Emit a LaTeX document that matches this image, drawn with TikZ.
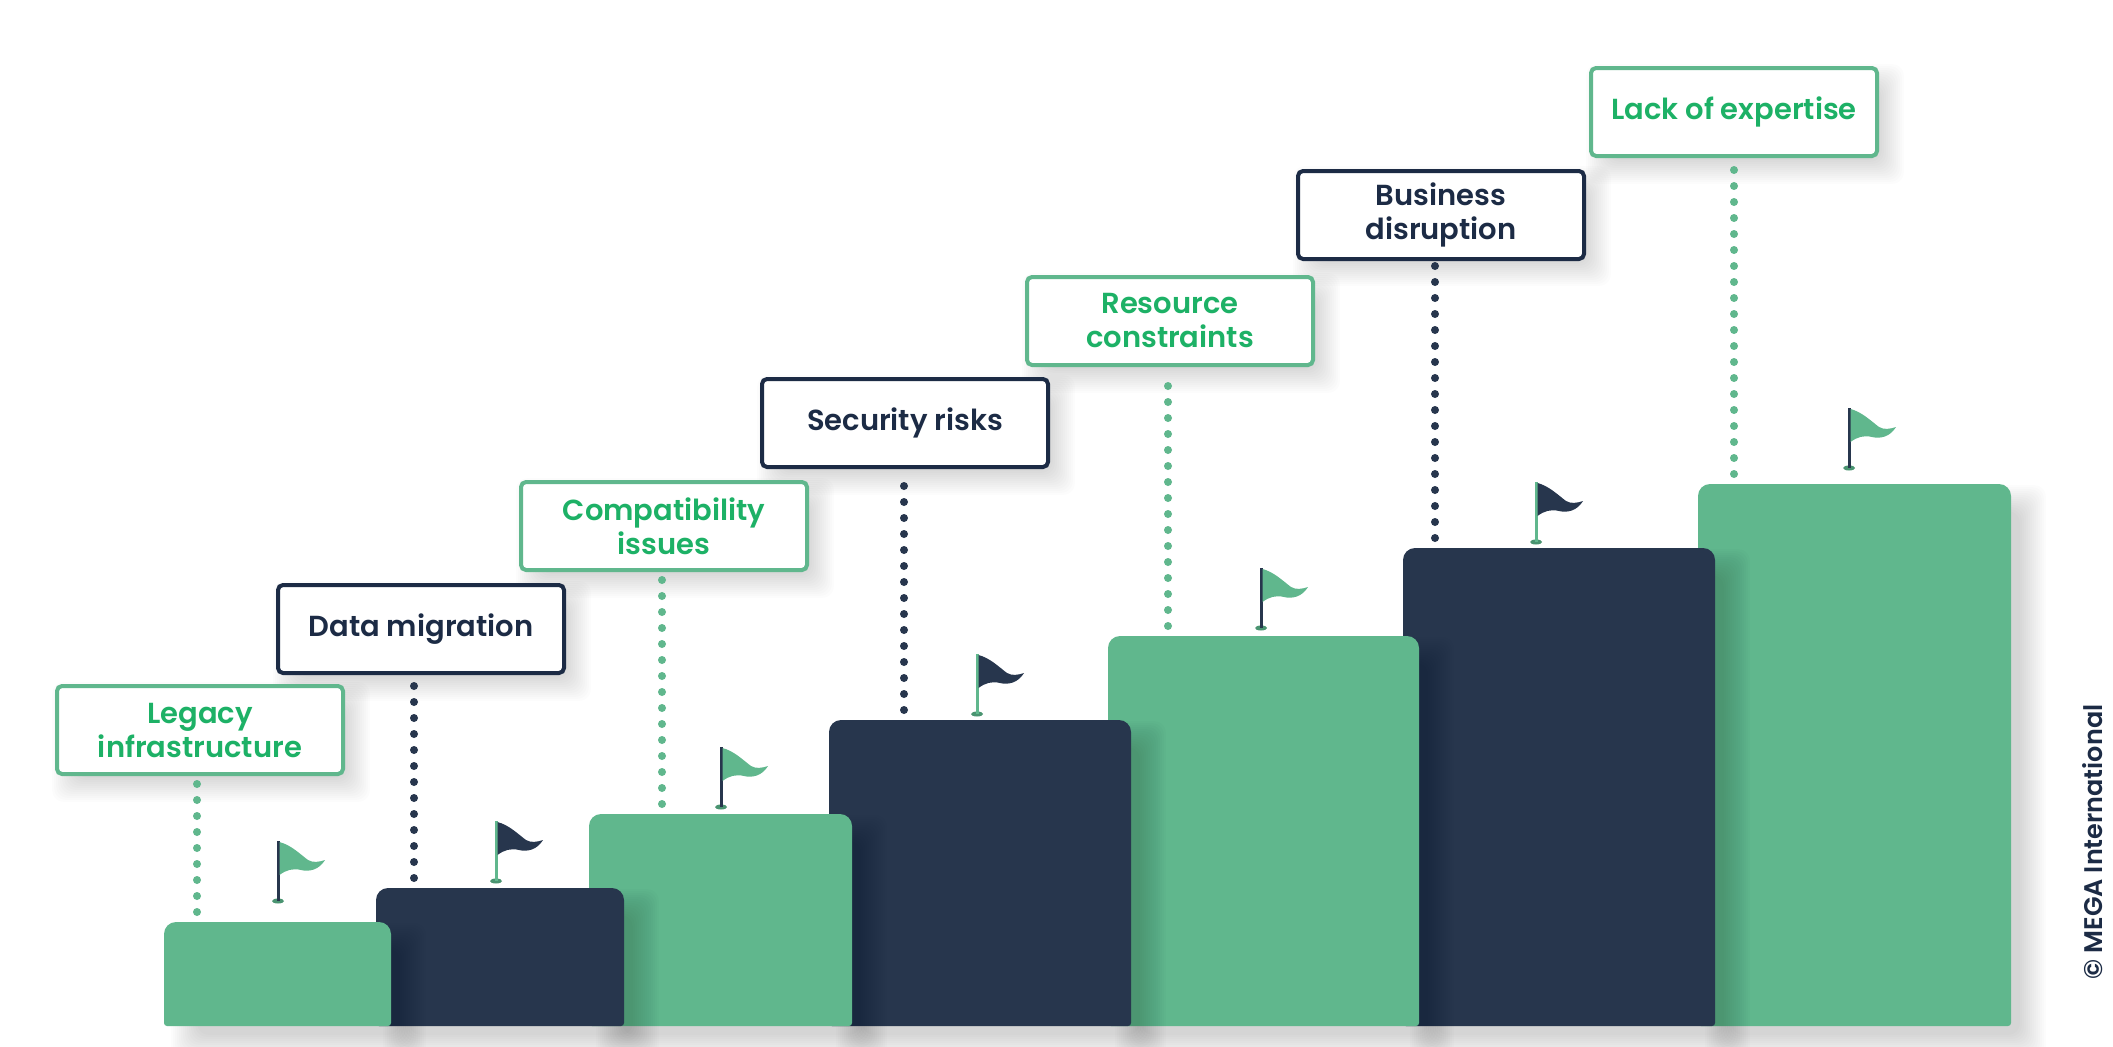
\documentclass[tikz,border=0pt]{standalone}
\usepackage{fontspec}
\setmainfont{Poppins SemiBold}
\usetikzlibrary{positioning,calc}
\definecolor{stepgreen}{RGB}{96,183,141}
\definecolor{stepnavy}{RGB}{39,54,77}
\definecolor{textgreen}{RGB}{29,177,102}
\definecolor{textnavy}{RGB}{28,43,69}
\definecolor{basegreen}{RGB}{74,148,113}
\newcommand{\softshadow}[4]{%
  \foreach \g in {0,2,...,26}{
    \fill[black, opacity=0.011, rounded corners=12pt]
      ({#1+13-\g},{#2+13-\g}) rectangle ({#3-13+\g},{#4-13+\g});
  }}
\tikzset{
  barbox/.style={inner sep=0pt, outer sep=0pt, anchor=south west},
  labelbox/.style={fill=white, rounded corners=5pt, line width=4pt, inner sep=0pt,
                   minimum width=286pt, minimum height=88pt, align=center,
                   font=\fontsize{29}{34}\selectfont},
  greenlabel/.style={labelbox, draw=stepgreen, text=textgreen},
  navylabel/.style={labelbox, draw=textnavy, text=textnavy},
  stepdots/.style={line width=8pt, line cap=round, dash pattern=on 0pt off 16pt,
                   shorten <=10pt, shorten >=4pt},
  greendots/.style={stepdots, stepgreen},
  navydots/.style={stepdots, stepnavy}
}
\begin{document}
\begin{tikzpicture}[x=1pt, y=-1pt]
  \useasboundingbox (0,0) rectangle (2113,1047);
  \fill[white] (0,0) rectangle (2113,1047);

  % Steps, last one first so that each one lies on the next
  \foreach \n/\xa/\xb/\ytop/\col in {7/1698/2011/484/stepgreen,6/1403/1715/548/stepnavy,
      5/1108/1419/636/stepgreen,4/829/1131/720/stepnavy,3/589/852/814/stepgreen,
      2/376/624/888/stepnavy,1/164/391/922/stepgreen}{
    \softshadow{\xa+20}{\ytop+14}{\xb+22}{1026+22}
    \node[barbox, minimum width={(\xb-\xa)*1pt}, minimum height={(1026-\ytop)*1pt}]
      (bar\n) at (\xa,1026) {};
    \fill[\col] (bar\n.south) [rounded corners=3pt]
      -- (bar\n.south east) [rounded corners=12pt] -- (bar\n.north east)
      -- (bar\n.north west) [rounded corners=3pt] -- (bar\n.south west) -- cycle;
  }

  % Flags
  \foreach \fx/\fy/\pole/\flag in {278/901/stepnavy/stepgreen,496/881/stepgreen/stepnavy,
      721/807/stepnavy/stepgreen,977/714/stepgreen/stepnavy,1261/628/stepnavy/stepgreen,
      1536/542/stepgreen/stepnavy,1849/468/stepnavy/stepgreen}{
    \begin{scope}[shift={(\fx,\fy)}]
      \fill[basegreen] (0,0) ellipse (6pt and 2.5pt);
      \fill[\pole] (-1.5,0) rectangle (1.5,-60);
      \fill[\flag] (1.5,-59) .. controls (13,-56) and (22,-47) .. (30,-41)
        .. controls (35,-38) and (41,-39) .. (47,-41)
        .. controls (41,-31) and (31,-29) .. (23,-31)
        .. controls (15,-33) and (8,-31) .. (1.5,-26) -- cycle;
    \end{scope}
  }

  % Label shadows
  \foreach \lx/\ly in {200/730,421/629,664/526,905/423,1170/321,1441/214,1734/112}{
    \softshadow{\lx-135}{\ly-35}{\lx+157}{\ly+59}
  }

  % Labels
  \node[greenlabel] (legacy) at (200,730) {Legacy\\infrastructure};
  \node[navylabel]  (migration) at (421,629) {Data migration};
  \node[greenlabel] (compat) at (664,526) {Compatibility\\issues};
  \node[navylabel]  (security) at (905,423) {Security risks};
  \node[greenlabel] (resource) at (1170,321) {Resource\\constraints};
  \node[navylabel]  (disruption) at (1441,215) {Business\\disruption};
  \node[greenlabel] (expertise) at (1734,112) {Lack of expertise};

  % Dotted lines, from the step up to its label
  \draw[greendots] ([xshift=-3pt]legacy.south |- bar1.north) -- ([xshift=-3pt]legacy.south);
  \draw[navydots]  ([xshift=-7pt]migration.south |- bar2.north) -- ([xshift=-7pt]migration.south);
  \draw[greendots] ([xshift=-2pt]compat.south |- bar3.north) -- ([xshift=-2pt]compat.south);
  \draw[navydots]  ([xshift=-1pt]security.south |- bar4.north) -- ([xshift=-1pt]security.south);
  \draw[greendots] ([xshift=-2pt]resource.south |- bar5.north) -- ([xshift=-2pt]resource.south);
  \draw[navydots]  ([xshift=-6pt]disruption.south |- bar6.north) -- ([xshift=-6pt]disruption.south);
  \draw[greendots] (expertise.south |- bar7.north) -- (expertise.south);

  \node[rotate=90, text=textnavy, font=\fontsize{25.5}{30}\selectfont] (credit) at (2093,842) {© MEGA International};
\end{tikzpicture}
\end{document}
